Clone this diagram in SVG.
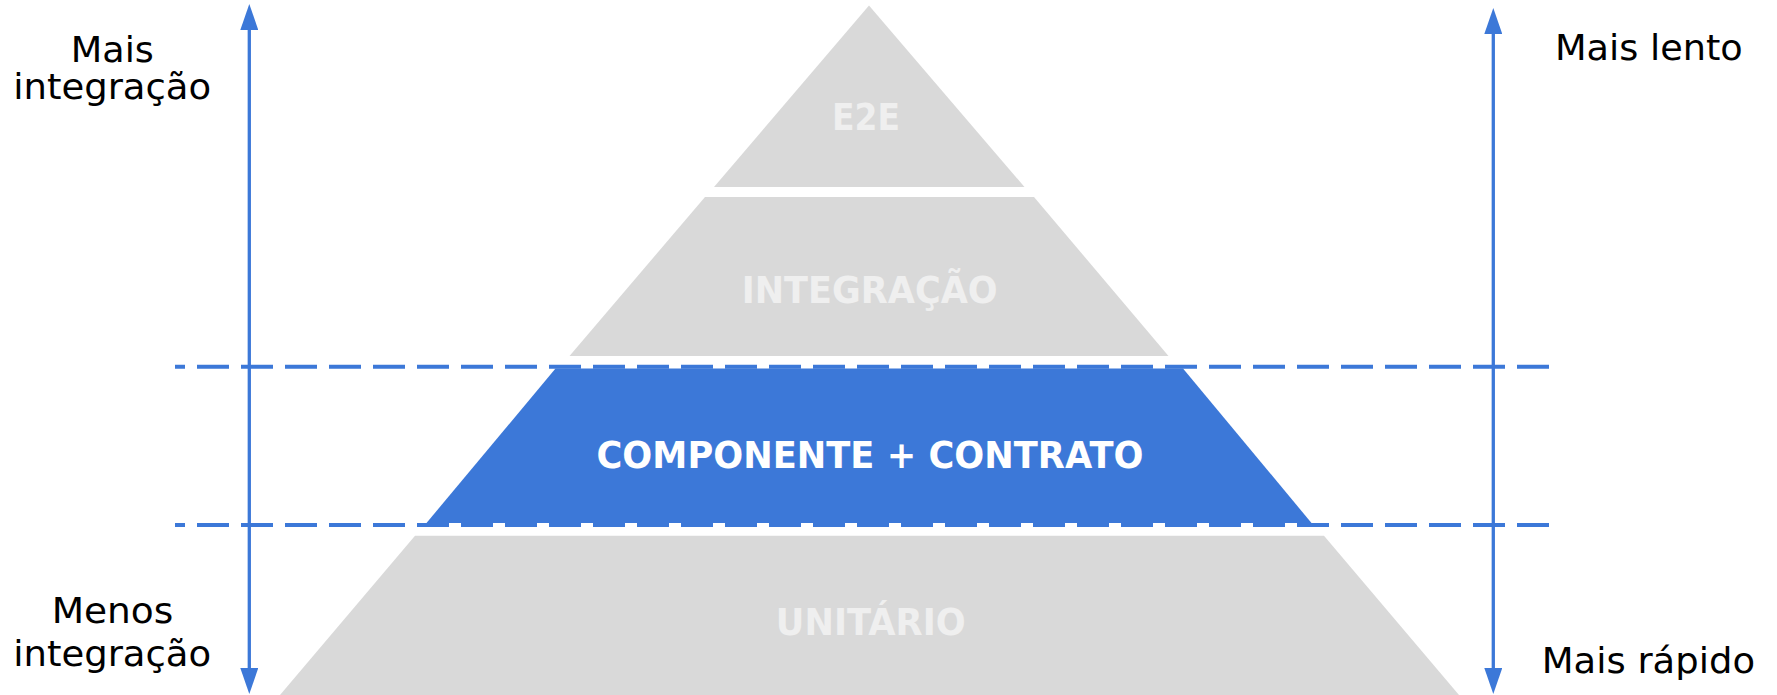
<svg xmlns="http://www.w3.org/2000/svg" width="1777" height="695" viewBox="0 0 1777 695">
<style>
.bg{fill:#ffffff}
.layer{fill:#d9d9d9}
.hl{fill:#3c78d8}
.lbl{font-family:"DejaVu Sans","Liberation Sans",sans-serif;font-weight:bold;font-size:37px;text-anchor:middle}
.lg{fill:#efefef}
.lw{fill:#ffffff}
.side{font-family:"DejaVu Sans","Liberation Sans",sans-serif;font-size:36px;fill:#000000}
.dash{stroke:#3c78d8;stroke-width:4;fill:none;stroke-dasharray:32 12;stroke-dashoffset:22}
.axis{stroke:#3c78d8;stroke-width:3.3;fill:none}
</style>
<defs>
<marker id="head" markerUnits="userSpaceOnUse" markerWidth="26" markerHeight="18" refX="0" refY="9" orient="auto-start-reverse" viewBox="0 0 26 18">
<path d="M0,0 L26,9 L0,18 Z" fill="#3c78d8"/>
</marker>
</defs>
<rect class="bg" x="0" y="0" width="1777" height="695"/>
<g id="node-e2e">
<polygon class="layer" points="869,5.5 1024.5,187 714,187"/>
<text class="lbl lg" x="866" y="130" textLength="68" lengthAdjust="spacingAndGlyphs">E2E</text>
</g>
<g id="node-integracao">
<polygon class="layer" points="705,197 1034,197 1168.5,356 569.5,356"/>
<text class="lbl lg" x="869.7" y="303.3" textLength="256" lengthAdjust="spacingAndGlyphs">INTEGRAÇÃO</text>
</g>
<g id="node-componente">
<polygon class="hl" points="555.5,368.5 1183,368.5 1311.5,523 426.5,523"/>
<text class="lbl lw" x="870" y="467.7" textLength="547" lengthAdjust="spacingAndGlyphs">COMPONENTE + CONTRATO</text>
</g>
<g id="node-unitario">
<polygon class="layer" points="415,535.7 1324,535.7 1459,695 280,695"/>
<text class="lbl lg" x="870.8" y="635" textLength="190" lengthAdjust="spacingAndGlyphs">UNITÁRIO</text>
</g>
<g id="connectors">
<line class="dash" x1="175" y1="366.7" x2="1549.3" y2="366.7"/>
<line class="dash" x1="175" y1="525" x2="1549.3" y2="525"/>
<line class="axis" x1="249.3" y1="30" x2="249.3" y2="668" marker-start="url(#head)" marker-end="url(#head)"/>
<line class="axis" x1="1493.3" y1="34" x2="1493.3" y2="668" marker-start="url(#head)" marker-end="url(#head)"/>
</g>
<g id="label-mais-integracao">
<text class="side" x="112.3" y="61.5" text-anchor="middle" textLength="83" lengthAdjust="spacingAndGlyphs">Mais</text>
<text class="side" x="112.2" y="98.5" text-anchor="middle" textLength="198" lengthAdjust="spacingAndGlyphs">integração</text>
</g>
<g id="label-menos-integracao">
<text class="side" x="112.5" y="623.3" text-anchor="middle" textLength="121.7" lengthAdjust="spacingAndGlyphs">Menos</text>
<text class="side" x="112.2" y="665.7" text-anchor="middle" textLength="198" lengthAdjust="spacingAndGlyphs">integração</text>
</g>
<g id="label-mais-lento">
<text class="side" x="1555" y="60" textLength="187.7" lengthAdjust="spacingAndGlyphs">Mais lento</text>
</g>
<g id="label-mais-rapido">
<text class="side" x="1541.7" y="673.3" textLength="213.3" lengthAdjust="spacingAndGlyphs">Mais rápido</text>
</g>
</svg>
